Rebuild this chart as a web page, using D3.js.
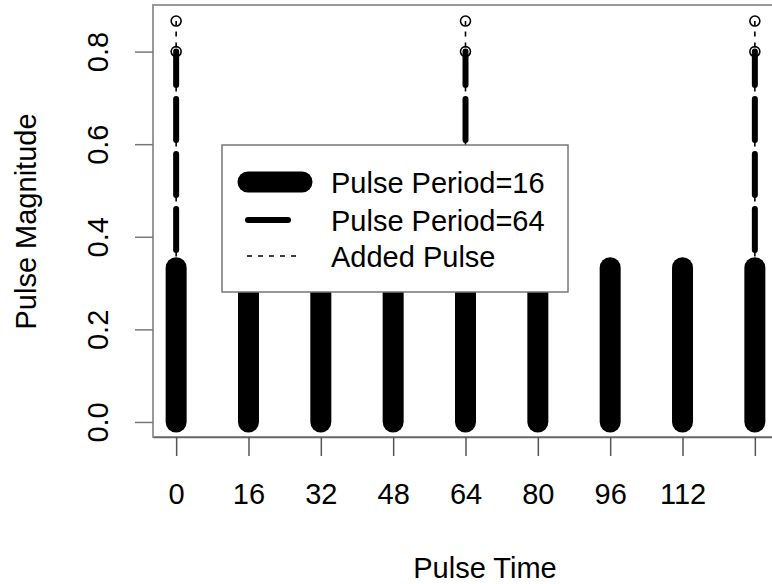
<!DOCTYPE html>
<html>
<head>
<meta charset="utf-8">
<script src="https://cdn.jsdelivr.net/npm/d3@7"></script>
<style>
  body { margin: 0; background: #fff; }
  svg text { font-family: "Liberation Sans", Arial, Helvetica, sans-serif; }
</style>
</head>
<body>
<div id="chart"></div>
<script>
// pulse data
var pulseTimes16 = [0, 16, 32, 48, 64, 80, 96, 112, 128];
var pulse16 = [0.333, 0.333, 0.333, 0.333, 0.333, 0.333, 0.333, 0.333, 0.333];
var pulseTimes64 = [0, 64, 128];
var pulse64 = [0.8, 0.8, 0.8];
var addedPulse = [0.866, 0.866, 0.866];

var xTicks = [0, 16, 32, 48, 64, 80, 96, 112, 128];
var xTickLabels = ["0", "16", "32", "48", "64", "80", "96", "112", ""];
var yTicks = [0, 0.2, 0.4, 0.6, 0.8];
var yTickLabels = ["0.0", "0.2", "0.4", "0.6", "0.8"];
var legendLabels = ["Pulse Period=16", "Pulse Period=64", "Added Pulse"];

var svgWidth = 772;
var svgHeight = 584;
var fs = 29;

// plot region (R style, right edge runs off the page)
var plot = { left: 153, right: 778, top: 5, bottom: 438 };

var svg = d3.select("#chart").append("svg")
  .attr("width", svgWidth)
  .attr("height", svgHeight);

// 4% padding like R's default axes
var xMin = 0, xMax = 128;
var xPad = (xMax - xMin) * 0.04;
var x = d3.scaleLinear()
  .domain([xMin - xPad, xMax + xPad])
  .range([plot.left, plot.right]);

var yMax = d3.max(addedPulse);
var yPad = yMax * 0.04;
var y = d3.scaleLinear()
  .domain([0 - yPad, yMax + yPad])
  .range([plot.bottom, plot.top]);

var marks = svg.append("g");

// period 16 pulses: very thick round-capped lines
marks.selectAll(".p16").data(pulseTimes16).enter()
  .append("line")
  .attr("class", "p16")
  .attr("x1", d => x(d)).attr("x2", d => x(d))
  .attr("y1", y(0))
  .attr("y2", (d, i) => y(pulse16[i]))
  .attr("stroke", "#000")
  .attr("stroke-width", 21)
  .attr("stroke-linecap", "round");

// period 64 pulses: long dash
marks.selectAll(".p64").data(pulseTimes64).enter()
  .append("line")
  .attr("class", "p64")
  .attr("x1", d => x(d)).attr("x2", d => x(d))
  .attr("y1", y(0))
  .attr("y2", (d, i) => y(pulse64[i]))
  .attr("stroke", "#000")
  .attr("stroke-width", 6)
  .attr("stroke-linecap", "round")
  .attr("stroke-dasharray", "41 14")
  .attr("stroke-dashoffset", 48);

// added pulse: thin dotted line
marks.selectAll(".padd").data(pulseTimes64).enter()
  .append("line")
  .attr("class", "padd")
  .attr("x1", d => x(d)).attr("x2", d => x(d))
  .attr("y1", y(0))
  .attr("y2", (d, i) => y(addedPulse[i]))
  .attr("stroke", "#000")
  .attr("stroke-width", 1.6)
  .attr("stroke-dasharray", "5 6")
  .attr("stroke-dashoffset", 10.5);

// open circle points at the tops
var pts = [];
pulseTimes64.forEach(function(t, i) {
  pts.push({ t: t, v: pulse64[i] });
  pts.push({ t: t, v: addedPulse[i] });
});
marks.selectAll(".pt").data(pts).enter()
  .append("circle")
  .attr("class", "pt")
  .attr("cx", d => x(d.t))
  .attr("cy", d => y(d.v))
  .attr("r", 5)
  .attr("fill", "none")
  .attr("stroke", "#000")
  .attr("stroke-width", 1.6);

// box
svg.append("rect")
  .attr("x", plot.left).attr("y", plot.top)
  .attr("width", plot.right - plot.left)
  .attr("height", plot.bottom - plot.top - 1)
  .attr("fill", "none")
  .attr("stroke", "#999")
  .attr("stroke-width", 2);

// x axis
var xAxis = svg.append("g")
  .attr("transform", `translate(0, ${plot.bottom - 1})`)
  .call(d3.axisBottom(x)
    .tickValues(xTicks)
    .tickFormat((d, i) => xTickLabels[i])
    .tickSize(19)
    .tickSizeOuter(0));
xAxis.select(".domain").attr("stroke", "#666").attr("stroke-width", 1.5);
xAxis.selectAll(".tick line").attr("stroke", "#555").attr("stroke-width", 1.5);
xAxis.selectAll(".tick text")
  .attr("y", 67).attr("dy", 0)
  .attr("fill", "#000")
  .style("font-size", fs + "px")
  .style("font-family", "'Liberation Sans', Arial, sans-serif");

// y axis
var yAxis = svg.append("g")
  .attr("transform", `translate(${plot.left}, 0)`)
  .call(d3.axisLeft(y)
    .tickValues(yTicks)
    .tickFormat((d, i) => yTickLabels[i])
    .tickSize(18)
    .tickSizeOuter(0));
yAxis.select(".domain").remove();
yAxis.selectAll(".tick line").attr("stroke", "#777").attr("stroke-width", 1.5);
yAxis.selectAll(".tick text")
  .attr("x", 0).attr("dy", 0)
  .attr("transform", "translate(-45,0) rotate(-90)")
  .attr("text-anchor", "middle")
  .attr("fill", "#000")
  .style("font-size", fs + "px")
  .style("font-family", "'Liberation Sans', Arial, sans-serif");

// axis titles
svg.append("text")
  .attr("x", 485)
  .attr("y", 578)
  .attr("text-anchor", "middle")
  .style("font-size", fs + "px")
  .text("Pulse Time");

svg.append("text")
  .attr("transform", `translate(36, ${(plot.top + plot.bottom) / 2}) rotate(-90)`)
  .attr("text-anchor", "middle")
  .style("font-size", fs + "px")
  .text("Pulse Magnitude");

// legend
var legend = svg.append("g");
legend.append("rect")
  .attr("x", 222).attr("y", 145)
  .attr("width", 346).attr("height", 147)
  .attr("fill", "#fff")
  .attr("stroke", "#777")
  .attr("stroke-width", 1.5);

var legendRowY = [182, 220, 256];
var legendStyles = [
  { w: 21, x1: 248, x2: 302, dash: null, cap: "round" },
  { w: 6, x1: 248, x2: 288, dash: null, cap: "round" },
  { w: 1.6, x1: 247, x2: 297, dash: "5 6", cap: "butt" }
];
legendLabels.forEach(function(lab, i) {
  var st = legendStyles[i];
  var ln = legend.append("line")
    .attr("x1", st.x1).attr("x2", st.x2)
    .attr("y1", legendRowY[i]).attr("y2", legendRowY[i])
    .attr("stroke", "#000")
    .attr("stroke-width", st.w)
    .attr("stroke-linecap", st.cap);
  if (st.dash) ln.attr("stroke-dasharray", st.dash);
  legend.append("text")
    .attr("x", 331)
    .attr("y", legendRowY[i] + 10.5)
    .style("font-size", fs + "px")
    .text(lab);
});
</script>
</body>
</html>
